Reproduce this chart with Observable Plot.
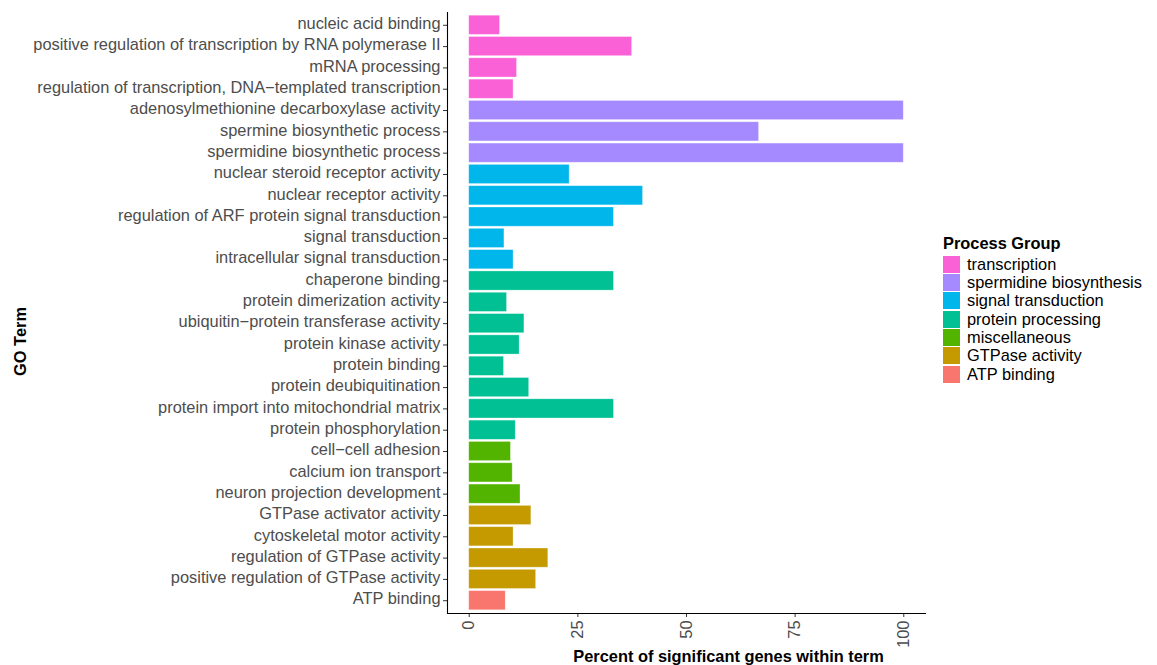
<!DOCTYPE html>
<html>
<head>
<meta charset="utf-8">
<script src="https://cdn.jsdelivr.net/npm/d3@7"></script>
<script src="https://cdn.jsdelivr.net/npm/@observablehq/plot@0.6"></script>
<style>
  body { margin: 0; background: #fff; }
  #wrap { position: relative; width: 1157px; height: 665px; font-family: "Liberation Sans", Arial, sans-serif; }
  #wrap svg { position: absolute; left: 0; top: 0; }
  #legend { position: absolute; left: 943px; top: 234px; font-size: 16.4px; color: #000; }
  #legend .title { font-weight: bold; height: 21px; line-height: 18px; white-space: nowrap; }
  #legend .row { display: flex; align-items: center; height: 18.33px; white-space: nowrap; }
  #legend .sw { width: 17px; height: 17px; margin-right: 7px; }
</style>
</head>
<body>
<div id="wrap"><div id="legend"></div></div>
<script>
const terms = [
  "nucleic acid binding",
  "positive regulation of transcription by RNA polymerase II",
  "mRNA processing",
  "regulation of transcription, DNA\u2212templated transcription",
  "adenosylmethionine decarboxylase activity",
  "spermine biosynthetic process",
  "spermidine biosynthetic process",
  "nuclear steroid receptor activity",
  "nuclear receptor activity",
  "regulation of ARF protein signal transduction",
  "signal transduction",
  "intracellular signal transduction",
  "chaperone binding",
  "protein dimerization activity",
  "ubiquitin\u2212protein transferase activity",
  "protein kinase activity",
  "protein binding",
  "protein deubiquitination",
  "protein import into mitochondrial matrix",
  "protein phosphorylation",
  "cell\u2212cell adhesion",
  "calcium ion transport",
  "neuron projection development",
  "GTPase activator activity",
  "cytoskeletal motor activity",
  "regulation of GTPase activity",
  "positive regulation of GTPase activity",
  "ATP binding"
];
const percents = [
  7.1, 37.5, 11.0, 10.2,
  100, 66.7, 100,
  23.1, 40.0, 33.3, 8.1, 10.2,
  33.3, 8.7, 12.7, 11.6, 8.0, 13.8, 33.3, 10.7,
  9.6, 10.0, 11.8,
  14.3, 10.2, 18.2, 15.4,
  8.4
];
const groups = [
  "transcription", "transcription", "transcription", "transcription",
  "spermidine biosynthesis", "spermidine biosynthesis", "spermidine biosynthesis",
  "signal transduction", "signal transduction", "signal transduction", "signal transduction", "signal transduction",
  "protein processing", "protein processing", "protein processing", "protein processing", "protein processing", "protein processing", "protein processing", "protein processing",
  "miscellaneous", "miscellaneous", "miscellaneous",
  "GTPase activity", "GTPase activity", "GTPase activity", "GTPase activity",
  "ATP binding"
];
const groupOrder = ["transcription", "spermidine biosynthesis", "signal transduction", "protein processing", "miscellaneous", "GTPase activity", "ATP binding"];
const groupColors = ["#FB61D7", "#A58AFF", "#00B6EB", "#00C094", "#53B400", "#C49A00", "#F8766D"];
const xTicks = [0, 25, 50, 75, 100];
const xTitle = "Percent of significant genes within term";
const yTitle = "GO Term";
const legendTitle = "Process Group";

const data = terms.map((t, i) => ({term: t, value: percents[i], group: groups[i]}));

const plot = Plot.plot({
  width: 1157,
  height: 665,
  marginTop: 12,
  marginBottom: 52,
  marginLeft: 447,
  marginRight: 232,
  style: {fontFamily: "'Liberation Sans', Arial, sans-serif", fontSize: "16.4px", color: "#4d4d4d", background: "transparent"},
  x: {domain: [-5, 105]},
  y: {domain: terms, paddingInner: 0.1, paddingOuter: 0.15, round: false},
  color: {domain: groupOrder, range: groupColors},
  marks: [
    Plot.barX(data, {x: "value", y: "term", fill: "group", stroke: "white", strokeOpacity: 0.45, strokeWidth: 0.7}),
    Plot.axisY({tickSize: 4, text: null, label: null, stroke: "#333"}),
    Plot.axisY({tickSize: 0, tickPadding: 7, label: null, fill: "#4d4d4d", fontSize: 16.4, dy: -1.5}),
    Plot.axisX({ticks: xTicks, tickRotate: -90, tickSize: 4, tickPadding: 3, label: null, stroke: "#333", fill: "#4d4d4d", fontSize: 16.4}),
    Plot.ruleX([-5], {stroke: "#000", strokeWidth: 1.1}),
    Plot.frame({anchor: "bottom", stroke: "#000", strokeWidth: 1.1}),
    Plot.text([xTitle], {frameAnchor: "bottom", lineAnchor: "middle", textAnchor: "middle", dx: 42, dy: 43, fontWeight: "bold", fill: "#000", fontSize: 16.4}),
    Plot.text([yTitle], {frameAnchor: "left", lineAnchor: "middle", textAnchor: "middle", rotate: -90, dx: -427, dy: 28.5, fontWeight: "bold", fill: "#000", fontSize: 16.4})
  ]
});
document.getElementById("wrap").appendChild(plot);

const color = plot.scale("color");
const legend = document.getElementById("legend");
const t = document.createElement("div");
t.className = "title";
t.textContent = legendTitle;
legend.appendChild(t);
color.domain.forEach((g, i) => {
  const row = document.createElement("div");
  row.className = "row";
  const sw = document.createElement("div");
  sw.className = "sw";
  sw.style.background = color.range[i];
  const lab = document.createElement("span");
  lab.textContent = g;
  row.appendChild(sw);
  row.appendChild(lab);
  legend.appendChild(row);
});
</script>
</body>
</html>
